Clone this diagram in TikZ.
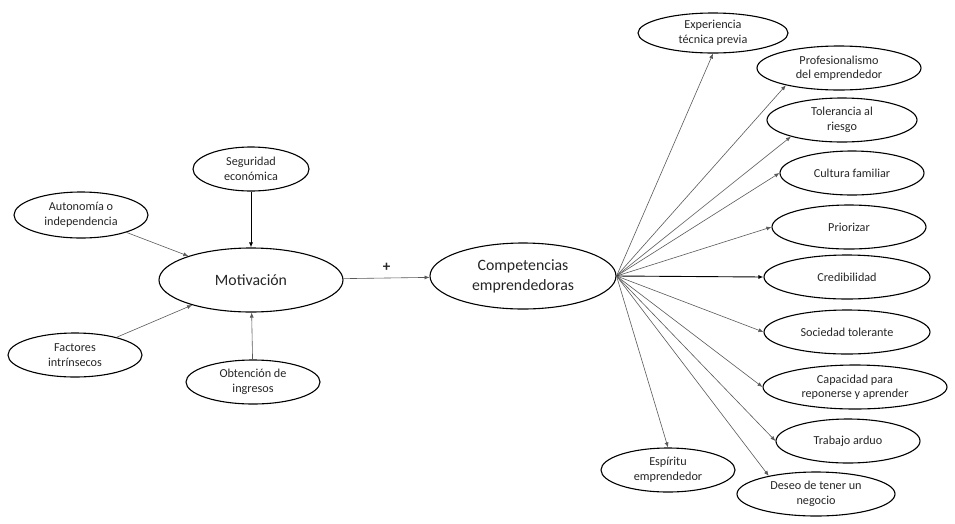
\documentclass[tikz,border=0pt]{standalone}
\usepackage{fontspec}
\setmainfont{Carlito}
\usetikzlibrary{shapes.geometric,arrows.meta}
\tikzset{
  oval/.style={ellipse, draw=black, line width=1.1pt, inner sep=0pt, align=center,
    font=\fontsize{12.2}{14.5}\selectfont, text=black!85},
  bigoval/.style={oval, font=\fontsize{15.8}{20}\selectfont},
  link/.style={draw=black!65, line width=0.6pt, -{Latex[length=5pt,width=4pt]}},
  strong/.style={link, draw=black, line width=0.9pt}
}
\begin{document}
\begin{tikzpicture}[x=1pt,y=-1pt]
\useasboundingbox (0,0) rectangle (955,523);
% left side
\node[oval, minimum width=116pt, minimum height=44pt] (seg) at (251,169) {Seguridad\\económica};
\node[oval, minimum width=134pt, minimum height=46pt] (aut) at (81,215) {Autonomía o\\independencia};
\node[bigoval, minimum width=184pt, minimum height=64pt] (mot) at (251,280) {Motivación};
\node[oval, minimum width=134pt, minimum height=44pt] (fac) at (75,355) {Factores\\intrínsecos};
\node[oval, minimum width=134pt, minimum height=44pt] (obt) at (253,382) {Obtención de\\ingresos};
\node[bigoval, minimum width=186pt, minimum height=66pt] (comp) at (523,276) {Competencias\\emprendedoras};
% right side
\node[oval, minimum width=150pt, minimum height=40pt] (exp) at (713,33) {Experiencia\\técnica previa};
\node[oval, minimum width=164pt, minimum height=44pt] (pro) at (839,68) {Profesionalismo\\del emprendedor};
\node[oval, minimum width=150pt, minimum height=44pt] (tol) at (842,120) {Tolerancia al\\riesgo};
\node[oval, minimum width=144pt, minimum height=44pt] (cul) at (852,173) {Cultura familiar};
\node[oval, minimum width=154pt, minimum height=44pt] (pri) at (849,227) {Priorizar};
\node[oval, minimum width=166pt, minimum height=44pt] (cre) at (847,277) {Credibilidad};
\node[oval, minimum width=166pt, minimum height=44pt] (soc) at (847,332) {Sociedad tolerante};
\node[oval, minimum width=184pt, minimum height=44pt] (cap) at (855,387) {Capacidad para\\reponerse y aprender};
\node[oval, minimum width=144pt, minimum height=44pt] (tra) at (848,441) {Trabajo arduo};
\node[oval, minimum width=134pt, minimum height=44pt] (esp) at (668,470) {Espíritu\\emprendedor};
\node[oval, minimum width=158pt, minimum height=44pt] (des) at (816,494) {Deseo de tener un\\negocio};
% connectors left
\draw[strong] (seg) -- (mot);
\draw[link] (aut) -- (mot);
\draw[link] (fac) -- (mot);
\draw[link] (obt) -- (mot);
\draw[link] (mot) -- node[above=3pt, font=\fontsize{15}{15}\selectfont\bfseries, text=black!85] (plus) {+} (comp);
% connectors right
\coordinate (src) at (comp.east);
\draw[link] (src) -- (exp.south);
\draw[link] (src) -- (pro.198);
\draw[link] (src) -- (tol.198);
\draw[link] (src) -- (cul.west);
\draw[link] (src) -- (pri.west);
\draw[strong] (src) -- (cre.west);
\draw[link] (src) -- (soc.west);
\draw[link] (src) -- (cap.west);
\draw[link] (src) -- (tra.west);
\draw[link] (src) -- (esp.north);
\draw[link] (src) -- (des.159);
\end{tikzpicture}
\end{document}
